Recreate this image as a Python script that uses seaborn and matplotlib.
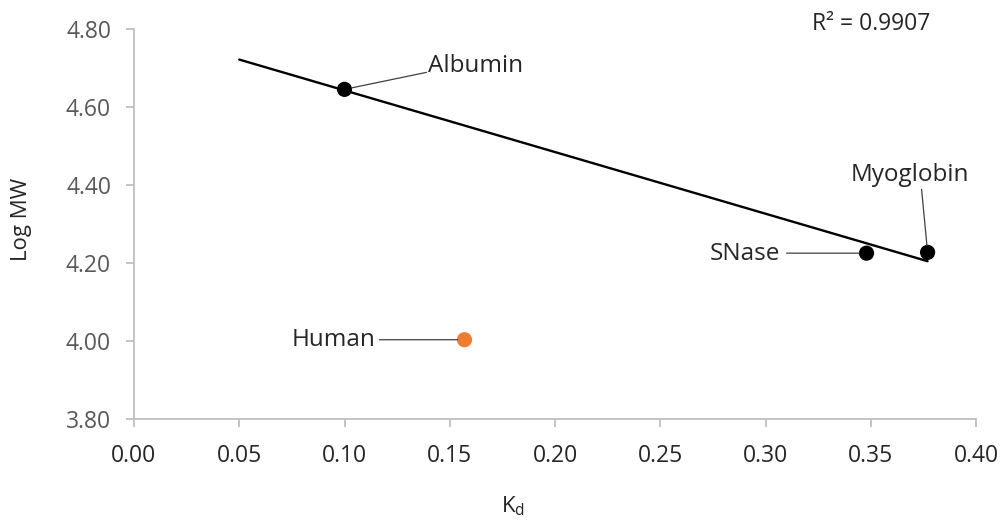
import numpy as np
import pandas as pd
import matplotlib
matplotlib.use("Agg")
import matplotlib.pyplot as plt
from matplotlib.ticker import FormatStrFormatter, MultipleLocator
import seaborn as sns

# Calibration standards: partition coefficient vs. log molecular weight
standard_names = ["Albumin", "SNase", "Myoglobin"]
standard_kd = [0.100, 0.348, 0.377]
standard_logmw = [4.646, 4.226, 4.228]

# Unknown sample
unknown_names = ["Human"]
unknown_kd = [0.157]
unknown_logmw = [4.004]

# Trendline drawn back to this Kd
trend_start = 0.05
r2_text = "R\u00b2 = 0.9907"

sns.set_theme(style="white")
plt.rcParams["font.family"] = ["Open Sans", "DejaVu Sans"]
plt.rcParams["mathtext.fontset"] = "custom"
plt.rcParams["mathtext.rm"] = "Open Sans"
plt.rcParams["mathtext.it"] = "Open Sans"

std = pd.DataFrame({"name": standard_names, "kd": standard_kd, "logmw": standard_logmw})
unk = pd.DataFrame({"name": unknown_names, "kd": unknown_kd, "logmw": unknown_logmw})

# Linear least-squares fit through the standards
slope, intercept = np.polyfit(std["kd"], std["logmw"], 1)
fit_x = np.array([trend_start, std["kd"].max()])
fit = pd.DataFrame({"kd": fit_x, "logmw": slope * fit_x + intercept})

fig = plt.figure(figsize=(10.06, 5.25), dpi=100)
ax = fig.add_axes([134 / 1006, 1 - 419.3 / 525, (976 - 134) / 1006, (419.3 - 29.3) / 525])

sns.lineplot(data=fit, x="kd", y="logmw", ax=ax, color="black", linewidth=1.7, zorder=2)
sns.scatterplot(data=std, x="kd", y="logmw", ax=ax, color="black", s=120,
                edgecolor="none", zorder=3)
sns.scatterplot(data=unk, x="kd", y="logmw", ax=ax, color="#ED7D31", s=120,
                edgecolor="none", zorder=3)

ax.set_xlim(0, 0.40)
ax.set_ylim(3.80, 4.80)
ax.xaxis.set_major_locator(MultipleLocator(0.05))
ax.yaxis.set_major_locator(MultipleLocator(0.20))
ax.xaxis.set_major_formatter(FormatStrFormatter("%.2f"))
ax.yaxis.set_major_formatter(FormatStrFormatter("%.2f"))

for side in ("top", "right"):
    ax.spines[side].set_visible(False)
for side in ("left", "bottom"):
    ax.spines[side].set_color("#bfbfbf")
    ax.spines[side].set_linewidth(1.3)

ax.tick_params(axis="both", which="major", direction="out", length=5.5, width=1.3,
               color="#bfbfbf", labelsize=16.5, bottom=True, left=True)
ax.tick_params(axis="y", pad=11, labelcolor="#595959")
ax.tick_params(axis="x", pad=12, labelcolor="#262626")

ax.set_xlabel("")
ax.set_ylabel("")
fig.text(22 / 1006, 1 - 219 / 525, "Log MW", rotation=90, ha="center", va="center",
         fontsize=16, color="#262626")
fig.text(513 / 1006, 1 - 512.7 / 525, r"K$_{\mathrm{d}}$", ha="center", va="baseline",
         fontsize=16, color="#262626")
fig.text(811.7 / 1006, 1 - 30 / 525, r2_text, ha="left", va="baseline",
         fontsize=16.5, color="#262626")

# Callout labels: (text offset, leader start offset, alignment), in pixels from the point
callouts = {
    "Albumin":   ((83, 17), (82, 17), "left"),
    "SNase":     ((-86, -7), (-80, 0), "right"),
    "Myoglobin": ((-18, 71), (-6, 63), "center"),
    "Human":     ((-89, -6.5), (-85, 0), "right"),
}
points = pd.concat([std, unk], ignore_index=True)
for _, row in points.iterrows():
    text_off, line_off, ha = callouts[row["name"]]
    ax.annotate("", xy=(row["kd"], row["logmw"]), xytext=line_off,
                textcoords="offset pixels",
                arrowprops=dict(arrowstyle="-", color="#404040", lw=0.9,
                                shrinkA=0, shrinkB=5))
    ax.annotate(row["name"], xy=(row["kd"], row["logmw"]), xytext=text_off,
                textcoords="offset pixels", ha=ha, va="baseline",
                fontsize=17.5, color="#262626")

fig.savefig("out.png", dpi=100, facecolor="white")
